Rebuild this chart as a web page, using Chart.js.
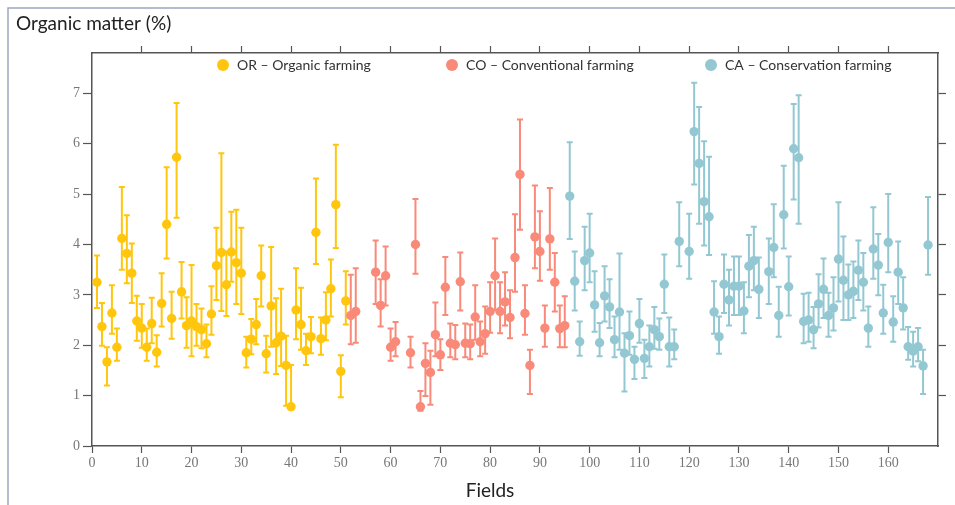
<!DOCTYPE html>
<html>
<head>
<meta charset="utf-8">
<script src="https://cdn.jsdelivr.net/npm/chart.js@4.4.0/dist/chart.umd.min.js"></script>
<style>
    html, body { margin: 0; padding: 0; background: #fff; }
    #wrap { width: 955px; height: 505px; }
</style>
</head>
<body>
<div id="wrap"><canvas id="organicMatterChart" width="955" height="505"></canvas></div>
<script>
// OR - organic farming
const orFields = [1, 2, 3, 4, 5, 6, 7, 8, 9, 10, 11, 12, 13, 14, 15, 16, 17, 18, 19, 20, 21, 22, 23, 24, 25,
    26, 27, 28, 29, 30, 31, 32, 33, 34, 35, 36, 37, 38, 39, 40, 41, 42, 43, 44, 45, 46, 47, 48, 49, 50, 51];
const orMean = [3.25, 2.37, 1.67, 2.64, 1.96, 4.12, 3.82, 3.43, 2.48, 2.34, 1.96, 2.43, 1.86, 2.83, 4.40, 2.53, 5.73,
    3.06, 2.39, 2.48, 2.37, 2.31, 2.03, 2.62, 3.58, 3.84, 3.20, 3.85, 3.64, 3.43, 1.85, 2.12, 2.41, 3.38, 1.83, 2.78,
    2.05, 2.18, 1.60, 0.78, 2.70, 2.41, 1.89, 2.17, 4.24, 2.13, 2.50, 3.12, 4.79, 1.48, 2.88];
const orHigh = [3.78, 2.84, 1.96, 3.19, 2.33, 5.14, 4.58, 4.02, 2.98, 2.82, 2.33, 2.94, 2.20, 3.43, 5.53, 3.06, 6.81,
    3.65, 2.95, 3.59, 2.82, 2.73, 2.41, 3.17, 4.33, 5.81, 3.86, 4.65, 4.69, 4.33, 2.17, 2.52, 2.92, 3.98, 2.19, 3.95,
    2.93, 3.12, 2.19, 1.61, 3.53, 3.14, 2.23, 2.56, 5.31, 2.55, 3.05, 3.70, 5.98, 1.80, 3.47];
const orLow = [2.74, 1.99, 1.20, 2.23, 1.69, 3.50, 3.23, 2.84, 2.09, 1.95, 1.69, 2.04, 1.58, 2.37, 3.72, 2.13, 4.53,
    2.53, 1.95, 1.78, 1.99, 1.94, 1.76, 2.21, 2.90, 2.68, 2.58, 3.26, 2.82, 2.62, 1.56, 1.82, 2.02, 2.77, 1.46, 1.97,
    1.43, 1.59, 0.80, 0.73, 2.12, 1.91, 1.61, 1.84, 3.61, 1.81, 2.10, 2.57, 3.93, 0.97, 2.41];

// CO - conventional farming
const coFields = [52, 53, 57, 58, 59, 60, 61, 64, 65, 66, 67, 68, 69, 70, 71, 72, 73, 74, 75, 76, 77, 78, 79, 80,
    81, 82, 83, 84, 85, 86, 87, 88, 89, 90, 91, 92, 93, 94, 95];
const coMean = [2.59, 2.67, 3.45, 2.79, 3.38, 1.96, 2.07, 1.85, 4.00, 0.78, 1.64, 1.46, 2.21, 1.81, 3.15, 2.04, 2.01,
    3.26, 2.04, 2.03, 2.56, 2.07, 2.23, 2.67, 3.38, 2.67, 2.86, 2.55, 3.74, 5.39, 2.63, 1.60, 4.15, 3.86, 2.34, 4.11,
    3.25, 2.33, 2.39];
const coHigh = [3.40, 3.53, 4.08, 3.31, 3.96, 2.33, 2.46, 2.17, 4.90, 1.09, 2.04, 1.89, 2.85, 2.12, 3.75, 2.43, 2.40,
    3.84, 2.43, 2.41, 3.19, 2.47, 2.77, 3.25, 4.12, 3.25, 3.45, 3.09, 4.60, 6.48, 3.19, 1.91, 5.17, 4.66, 2.79, 5.12,
    3.83, 2.79, 2.97];
const coLow = [2.02, 2.05, 2.82, 2.37, 2.79, 1.69, 1.78, 1.56, 3.42, 0.70, 0.99, 0.82, 1.78, 1.51, 2.60, 1.76, 1.72,
    2.69, 1.76, 1.72, 2.11, 1.78, 1.83, 2.25, 2.70, 2.24, 2.39, 2.14, 3.06, 4.29, 2.21, 1.03, 3.53, 3.28, 1.97, 3.50,
    2.67, 1.96, 1.96];

// CA - conservation farming
const caFields = [96, 97, 98, 99, 100, 101, 102, 103, 104, 105, 106, 107, 108, 109, 110, 111, 112, 113, 114, 115,
    116, 117, 118, 120, 121, 122, 123, 124, 125, 126, 127, 128, 129, 130, 131, 132, 133, 134, 136, 137, 138, 139, 140,
    141, 142, 143, 144, 145, 146, 147, 148, 149, 150, 151, 152, 153, 154, 155, 156, 157, 158, 159, 160, 161, 162, 163,
    164, 165, 166, 167, 168];
const caMean = [4.96, 3.27, 2.07, 3.68, 3.83, 2.80, 2.05, 2.98, 2.76, 2.11, 2.66, 1.84, 2.19, 1.72, 2.43, 1.74, 1.97,
    2.31, 2.17, 3.21, 1.97, 1.97, 4.06, 3.86, 6.24, 5.61, 4.85, 4.55, 2.66, 2.17, 3.21, 2.90, 3.17, 3.17, 2.68, 3.57,
    3.68, 3.11, 3.46, 3.94, 2.59, 4.59, 3.16, 5.90, 5.72, 2.47, 2.50, 2.31, 2.82, 3.11, 2.59, 2.74, 3.71, 3.29, 3.00,
    3.07, 3.49, 3.25, 2.34, 3.91, 3.59, 2.64, 4.04, 2.46, 3.45, 2.74, 1.97, 1.88, 1.97, 1.59, 3.99];
const caHigh = [6.03, 3.86, 2.47, 4.35, 4.61, 3.47, 2.44, 3.57, 3.31, 2.57, 3.82, 2.24, 2.67, 1.97, 2.92, 2.11, 2.39,
    2.76, 2.53, 3.80, 2.55, 2.31, 4.84, 4.61, 7.21, 6.73, 6.05, 5.74, 3.27, 2.57, 3.80, 3.50, 3.76, 3.76, 3.25, 4.19,
    4.35, 3.74, 4.12, 4.80, 3.16, 5.56, 3.76, 6.79, 6.96, 3.02, 3.04, 2.76, 3.41, 3.72, 3.04, 3.35, 4.84, 4.16, 3.60,
    3.66, 4.08, 3.83, 2.77, 4.74, 4.21, 3.20, 5.00, 2.97, 4.06, 3.35, 2.36, 2.27, 2.34, 1.91, 4.94];
const caLow = [4.11, 2.69, 1.79, 3.09, 3.25, 2.27, 1.78, 2.47, 2.34, 1.76, 1.91, 1.08, 1.81, 1.33, 2.05, 1.35, 1.58,
    1.93, 1.91, 2.64, 1.58, 1.72, 3.57, 3.32, 5.19, 4.41, 3.98, 3.79, 2.23, 1.83, 2.64, 2.39, 2.60, 2.60, 2.24, 2.95,
    3.09, 2.54, 2.82, 3.35, 2.17, 3.92, 2.59, 4.89, 4.41, 2.04, 2.07, 1.94, 2.35, 2.54, 2.17, 2.29, 2.87, 2.50, 2.50,
    2.54, 2.90, 2.69, 1.97, 3.32, 2.99, 2.23, 3.45, 2.07, 2.82, 2.31, 1.71, 1.58, 1.68, 1.03, 3.40];

const yellow = "#ffc60d";
const salmon = "#f98a79";
const teal = "#93c8d3";
const axisColor = "#555555";
const tickLabelColor = "#777777";

function toPoints(fields, values) {
    return fields.map((f, i) => ({ x: f, y: values[i] }));
}

function makeDataset(label, color, fields, mean, low, high) {
    return {
        label: label,
        data: toPoints(fields, mean),
        errLow: low,
        errHigh: high,
        backgroundColor: color,
        borderColor: color,
        borderWidth: 0,
        pointRadius: 4.7,
        pointHoverRadius: 4.7,
    };
}

// vertical error bars with small caps, drawn under the points
const errorBars = {
    id: "errorBars",
    beforeDatasetsDraw(chart) {
        const ctx = chart.ctx;
        const xs = chart.scales.x;
        const ys = chart.scales.y;
        chart.data.datasets.forEach((ds) => {
            ctx.save();
            ctx.strokeStyle = ds.borderColor;
            ctx.lineWidth = 2;
            ds.data.forEach((p, i) => {
                const px = xs.getPixelForValue(p.x);
                const top = ys.getPixelForValue(ds.errHigh[i]);
                const bot = ys.getPixelForValue(ds.errLow[i]);
                ctx.beginPath();
                ctx.moveTo(px, top);
                ctx.lineTo(px, bot);
                ctx.moveTo(px - 3, top);
                ctx.lineTo(px + 3, top);
                ctx.moveTo(px - 3, bot);
                ctx.lineTo(px + 3, bot);
                ctx.stroke();
            });
            ctx.restore();
        });
    },
};

// frame around the figure, the in-plot legend and the x axis caption
const decorations = {
    id: "decorations",
    beforeDraw(chart) {
        const ctx = chart.ctx;
        ctx.save();
        ctx.fillStyle = "#ffffff";
        ctx.fillRect(0, 0, chart.width, chart.height);
        ctx.strokeStyle = "#9aa7c2";
        ctx.lineWidth = 1.5;
        ctx.beginPath();
        ctx.moveTo(8, chart.height);
        ctx.lineTo(8, 8);
        ctx.lineTo(chart.width, 8);
        ctx.stroke();
        ctx.restore();
    },
    afterDraw(chart) {
        const ctx = chart.ctx;
        const legendX = [223, 452, 711];
        const legendY = 65;
        ctx.save();
        ctx.font = "14px Lato";
        ctx.textBaseline = "middle";
        chart.data.datasets.forEach((ds, i) => {
            ctx.fillStyle = ds.backgroundColor;
            ctx.beginPath();
            ctx.arc(legendX[i], legendY, 6, 0, Math.PI * 2);
            ctx.fill();
            ctx.fillStyle = "#333333";
            ctx.fillText(ds.label, legendX[i] + 14, legendY);
        });

        ctx.font = "19px Lato";
        ctx.fillStyle = "#222222";
        ctx.textAlign = "center";
        ctx.fillText("Fields", 490, 491);
        ctx.restore();
    },
};

const tickFont = { family: "Liberation Serif", size: 14 };

new Chart(document.getElementById("organicMatterChart"), {
    type: "scatter",
    data: {
        datasets: [
            makeDataset("OR \u2013 Organic farming", yellow, orFields, orMean, orLow, orHigh),
            makeDataset("CO \u2013 Conventional farming", salmon, coFields, coMean, coLow, coHigh),
            makeDataset("CA \u2013 Conservation farming", teal, caFields, caMean, caLow, caHigh),
        ],
    },
    options: {
        responsive: false,
        animation: false,
        layout: { padding: { left: 16, right: 0, top: 0, bottom: 0 } },
        plugins: {
            legend: { display: false },
            tooltip: { enabled: false },
            title: {
                display: true,
                text: "Organic matter (%)",
                align: "start",
                color: "#222222",
                font: { family: "Lato", size: 19, weight: "normal", lineHeight: 1 },
                padding: { top: 14, bottom: 2 },
            },
        },
        scales: {
            x: {
                type: "linear",
                position: "bottom",
                min: 0,
                max: 170,
                ticks: { stepSize: 10, color: tickLabelColor, font: tickFont, padding: 2, maxRotation: 0, autoSkip: false },
                grid: { drawOnChartArea: false, tickLength: 7, color: axisColor, tickWidth: 1.2 },
                border: { color: axisColor, width: 1.5 },
                afterBuildTicks: (s) => { s.ticks = s.ticks.filter((t) => t.value <= 160); },
                afterFit: (s) => { s.height = 59; },
            },
            x2: {
                type: "linear",
                position: "top",
                min: 0,
                max: 170,
                ticks: { display: false, stepSize: 10 },
                grid: { drawOnChartArea: false, tickLength: 7, color: axisColor, tickWidth: 1.2 },
                border: { color: axisColor, width: 1.5 },
                afterBuildTicks: (s) => { s.ticks = s.ticks.filter((t) => t.value > 0 && t.value <= 160); },
                afterFit: (s) => { s.height = 18; },
            },
            y: {
                type: "linear",
                position: "left",
                min: 0,
                max: 7.8,
                ticks: { stepSize: 1, color: tickLabelColor, font: tickFont, padding: 3 },
                grid: { drawOnChartArea: false, tickLength: 9, color: axisColor, tickWidth: 1.2 },
                border: { color: axisColor, width: 1.5 },
                afterBuildTicks: (s) => { s.ticks = s.ticks.filter((t) => t.value <= 7); },
                afterFit: (s) => { s.width = 76; },
            },
            y2: {
                type: "linear",
                position: "right",
                min: 0,
                max: 7.8,
                ticks: { display: false, stepSize: 1 },
                grid: { drawOnChartArea: false, tickLength: 8, color: axisColor, tickWidth: 1.2 },
                border: { color: axisColor, width: 1.5 },
                afterBuildTicks: (s) => { s.ticks = s.ticks.filter((t) => t.value > 0 && t.value <= 7); },
                afterFit: (s) => { s.width = 17; },
            },
        },
    },
    plugins: [decorations, errorBars],
});
</script>
</body>
</html>
